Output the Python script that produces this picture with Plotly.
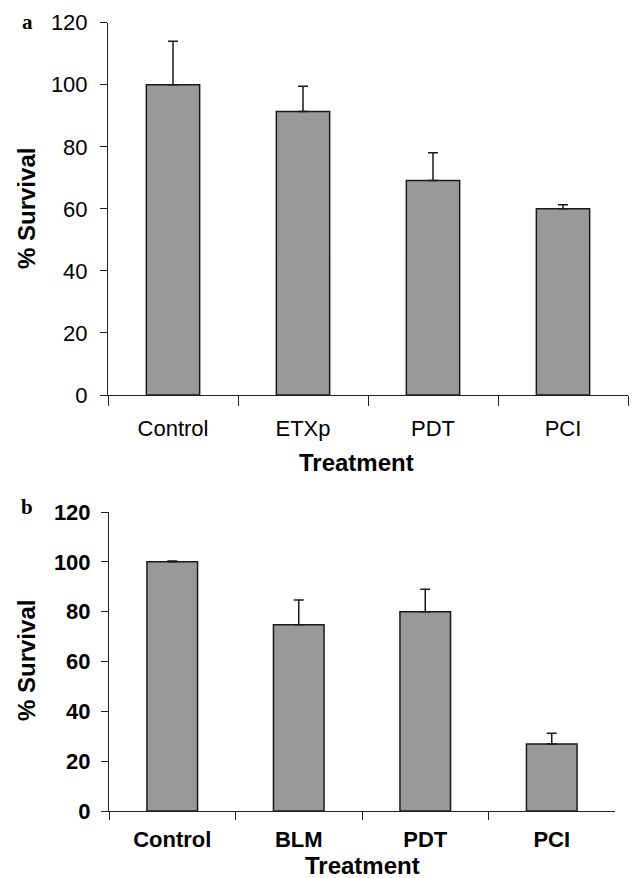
import plotly.graph_objects as go

# Panel a
cats_a = ["Control", "ETXp", "PDT", "PCI"]
vals_a = [100, 91.4, 69.1, 60.0]
errs_a = [14.0, 8.1, 9.0, 1.3]

# Panel b
cats_b = ["Control", "BLM", "PDT", "PCI"]
vals_b = [100, 74.7, 80.0, 26.9]
errs_b = [0.3, 10.0, 9.0, 4.3]

y_ticks = [0, 20, 40, 60, 80, 100, 120]

W, H = 632, 878
SANS = "Liberation Sans, Arial, sans-serif"
SERIF = "Liberation Serif, Times New Roman, serif"
BAR = "#999999"

def px_x(p):
    return p / W

def px_y(p):
    return 1 - p / H

fig = go.Figure()

fig.add_trace(go.Bar(
    x=cats_a, y=vals_a, xaxis="x", yaxis="y", width=0.41,
    marker=dict(color=BAR, line=dict(color="#1a1a1a", width=1.5)),
    error_y=dict(type="data", symmetric=False, array=errs_a,
                 arrayminus=[0] * len(errs_a), color="#1a1a1a",
                 thickness=1.5, width=5),
    showlegend=False, hoverinfo="x+y",
))
fig.add_trace(go.Bar(
    x=cats_b, y=vals_b, xaxis="x2", yaxis="y2", width=0.40,
    marker=dict(color=BAR, line=dict(color="#1a1a1a", width=1.5)),
    error_y=dict(type="data", symmetric=False, array=errs_b,
                 arrayminus=[0] * len(errs_b), color="#1a1a1a",
                 thickness=1.5, width=5),
    showlegend=False, hoverinfo="x+y",
))

axis_common = dict(showgrid=False, zeroline=False, showline=True,
                   linecolor="#222222", linewidth=1, ticks="outside",
                   tickcolor="#222222", tickwidth=1, automargin=False)

def ann(text, x, y, size, family, angle=0):
    return dict(text=text, x=px_x(x), y=px_y(y), xref="paper", yref="paper",
                xanchor="center", yanchor="middle", showarrow=False,
                textangle=angle,
                font=dict(family=family, size=size, color="black", weight="bold"))

fig.update_layout(
    template="none",
    width=W, height=H,
    margin=dict(l=0, r=0, t=0, b=0, pad=0, autoexpand=False),
    paper_bgcolor="white", plot_bgcolor="white",
    xaxis=dict(domain=[px_x(108), px_x(628)], anchor="y",
               type="category", range=[-0.5, 3.5], tickson="boundaries",
               ticklen=10, ticklabelstandoff=14,
               tickfont=dict(family=SANS, size=22, color="black"),
               **axis_common),
    yaxis=dict(domain=[px_y(395), px_y(22.7)], anchor="x",
               range=[0, 120], tickvals=y_ticks, ticklen=7,
               ticklabelstandoff=8,
               tickfont=dict(family=SANS, size=22, color="black"),
               **axis_common),
    xaxis2=dict(domain=[px_x(109), px_x(615)], anchor="y2",
                type="category", range=[-0.5, 3.5], tickson="boundaries",
                ticklen=8, ticklabelstandoff=9,
                tickfont=dict(family=SANS, size=22, color="black", weight="bold"),
                **axis_common),
    yaxis2=dict(domain=[px_y(811), px_y(512)], anchor="x2",
                range=[0, 120], tickvals=y_ticks, ticklen=7,
                ticklabelstandoff=6,
                tickfont=dict(family=SANS, size=22, color="black", weight="bold"),
                **axis_common),
    annotations=[
        ann("a", 27, 22, 21, SERIF),
        ann("b", 27, 507, 21, SERIF),
        ann("% Survival", 26, 209, 24, SANS, -90),
        ann("% Survival", 26, 661, 24, SANS, -90),
        ann("Treatment", 356, 462, 24, SANS),
        ann("Treatment", 362, 865, 24, SANS),
    ],
)

fig.write_html(
    "out.html",
    config={"displayModeBar": False},
    post_script="document.body.style.margin='0';document.body.style.padding='0';",
)
